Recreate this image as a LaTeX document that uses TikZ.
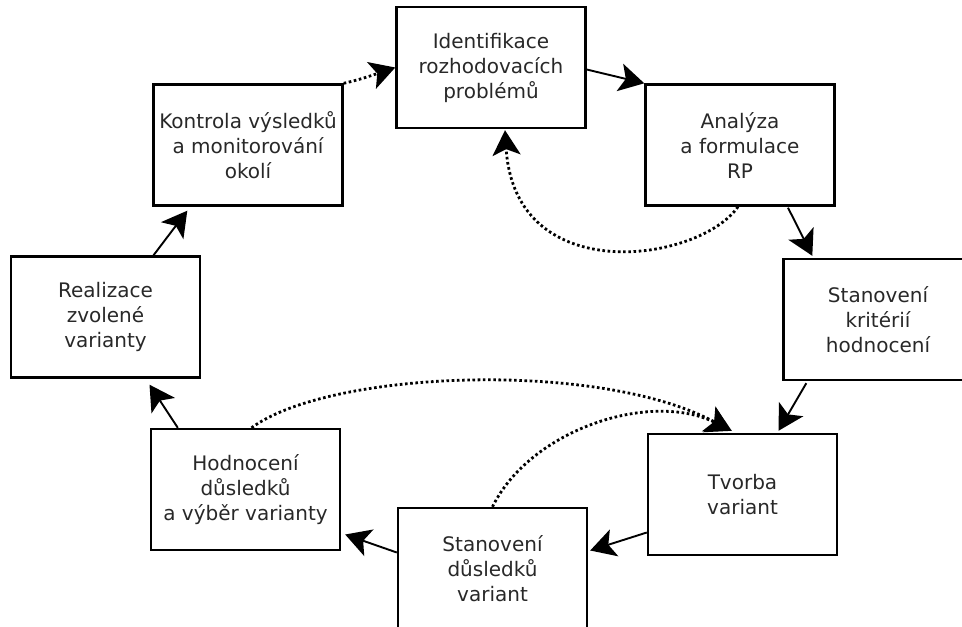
\documentclass[tikz,border=0pt]{standalone}
\usepackage{fontspec}
\setmainfont{DejaVu Sans}
\usetikzlibrary{arrows.meta,calc}
\definecolor{ink}{RGB}{40,40,40}
\begin{document}
\begin{tikzpicture}[x=1pt,y=-1pt,
  stepbox/.style={draw=black, line width=2.4pt, minimum width=189pt,
    minimum height=121pt, inner sep=0pt, align=center, text=ink,
    font=\fontsize{20}{25}\selectfont},
  head/.style={-{Stealth[length=25pt,width=28pt,inset=6pt]}},
  flow/.style={head, line width=1.9pt},
  back/.style={head, line width=2.8pt, dash pattern=on 2.6pt off 2.6pt},
]
\clip (0,0) rectangle (962,627);

% process steps
\node[stepbox] (ident) at (491,67.5)  {Identifikace\\rozhodovacích\\problémů};
\node[stepbox] (anal)  at (740,145)   {Analýza\\a formulace\\RP};
\node[stepbox] (krit)  at (878,319.5) {Stanovení\\kritérií\\hodnocení};
\node[stepbox] (tvor)  at (742.5,494.5) {Tvorba\\variant};
\node[stepbox] (dusl)  at (492.5,568.5) {Stanovení\\důsledků\\variant};
\node[stepbox] (hodn)  at (245.5,489.5) {Hodnocení\\důsledků\\a výběr varianty};
\node[stepbox] (real)  at (105.5,317) {Realizace\\zvolené\\varianty};
\node[stepbox] (kontr) at (248,145)   {Kontrola výsledků\\a monitorování\\okolí};

% main cycle
\draw[flow] ($(ident.east)+(0,2)$) -- (anal.north west);
\draw[flow] ($(anal.south)+(48,1)$) -- ($(krit.north west)+(30,-2)$);
\draw[flow] ($(krit.south west)+(24,2)$) -- ($(tvor.north)+(36,-2)$);
\draw[flow] ($(tvor.west)+(0,38)$) -- ($(dusl.east)+(2,-18)$);
\draw[flow] ($(dusl.west)+(0,-16)$) -- ($(hodn.east)+(4,45)$);
\draw[flow] ($(hodn.north west)+(28,0)$) -- ($(real.south)+(44,6)$);
\draw[flow] ($(real.north)+(48,0)$) -- ($(kontr.south west)+(35,4)$);

% feedback loops
\draw[back] (kontr.north east) .. controls +(18,-4) and +(-18,6) .. (ident.west);
\draw[back] ($(anal.south)+(-2,0)$) .. controls (700,262) and (515,290) .. ($(ident.south)+(14,1)$);
\draw[back] ($(hodn.north)+(6,0)$) .. controls (330,370) and (600,360) .. ($(tvor.north west)+(84,-2)$);
\draw[back] (dusl.north) .. controls (530,430) and (650,390) .. ($(tvor.north west)+(85,-2)$);
\end{tikzpicture}
\end{document}
